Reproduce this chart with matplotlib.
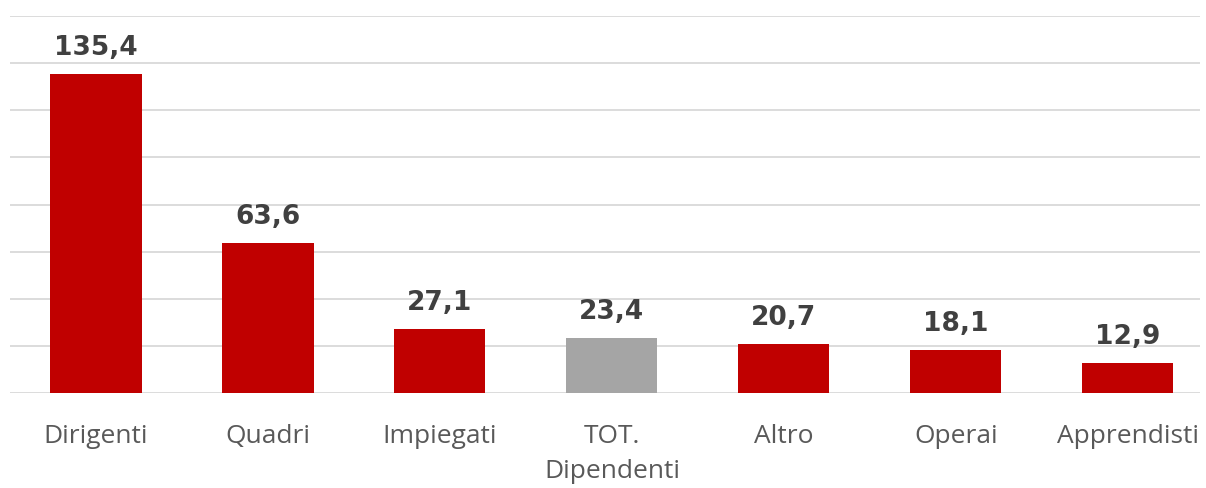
import matplotlib
matplotlib.use("Agg")
import matplotlib.pyplot as plt

categories = ["Dirigenti", "Quadri", "Impiegati", "TOT.\nDipendenti", "Altro", "Operai", "Apprendisti"]
values = [135.4, 63.6, 27.1, 23.4, 20.7, 18.1, 12.9]
colors = ["#C00000", "#C00000", "#C00000", "#A5A5A5", "#C00000", "#C00000", "#C00000"]
value_labels = ["135,4", "63,6", "27,1", "23,4", "20,7", "18,1", "12,9"]

plt.rcParams['font.family'] = ['Open Sans', 'DejaVu Sans']

fig = plt.figure(figsize=(12.06, 4.89), dpi=100)
ax = fig.add_axes([10/1206, 95/489, 1190/1206, 377/489])

x = list(range(len(categories)))
ax.bar(x, values, width=0.53, color=colors, zorder=3)
ax.set_ylim(0, 160)
ax.set_xlim(-0.5, 6.42)
ax.set_yticks(range(0, 161, 20))
ax.yaxis.grid(True, color="#D9D9D9", linewidth=1.3, zorder=0)
ax.tick_params(axis='y', left=False, labelleft=False)
ax.tick_params(axis='x', bottom=False, pad=18)
ax.set_xticks(x)
ax.set_xticklabels(categories, fontsize=19, color="#595959", linespacing=1.53, va='top')
for s in ax.spines.values():
    s.set_visible(False)

for xi, v, lab in zip(x, values, value_labels):
    ax.annotate(lab, (xi, v), xytext=(0, 10), textcoords='offset points',
                ha='center', va='bottom', fontsize=19, fontweight='bold',
                color="#404040", family='DejaVu Sans')

fig.savefig("out.png", dpi=100)
